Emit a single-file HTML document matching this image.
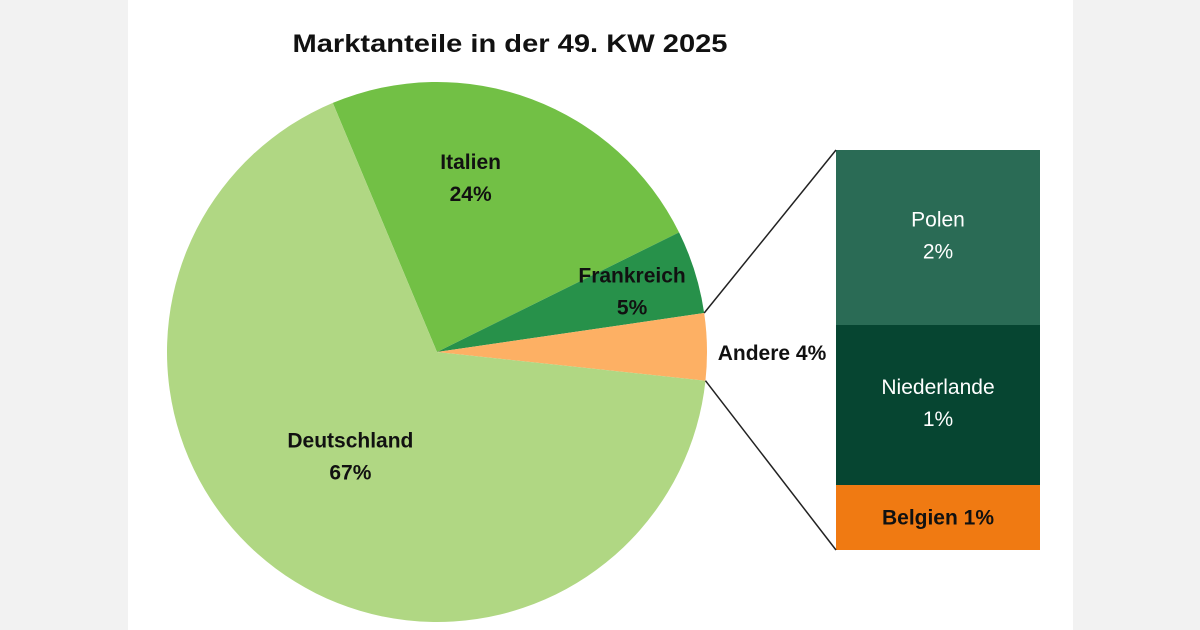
<!DOCTYPE html>
<html><head><meta charset="utf-8"><style>
html,body{margin:0;padding:0;width:1200px;height:630px;overflow:hidden;background:#f2f2f2}
svg{display:block;font-family:"Liberation Sans",sans-serif}
</style></head><body>
<svg id="c" width="1200" height="630">
<rect x="128" y="0" width="945" height="630" fill="#fff"/>
<text x="510" y="52" text-anchor="middle" font-size="25" font-weight="bold" fill="#111" textLength="435" lengthAdjust="spacingAndGlyphs">Marktanteile in der 49. KW 2025</text>
<g id="pie"></g>
<g id="bar"></g>
</svg>
<script>
const pieNames=["Italien","Frankreich","Andere","Deutschland"];
const pieValues=[24,5,4,67];
const pieColors=["#72c045","#27914a","#fdb064","#b0d783"];
const barNames=["Polen","Niederlande","Belgien"];
const barValues=[1.75,1.6,0.65];
const barLabels=["2%","1%","1%"];
const barColors=["#2a6b55","#064531","#f07a12"];
const NS="http://www.w3.org/2000/svg";
const cx=437,cy=352,r=270,start=337.3;
function pt(a,rr){const t=a*Math.PI/180;return [cx+rr*Math.sin(t),cy-rr*Math.cos(t)];}
const pie=document.getElementById('pie'),bar=document.getElementById('bar');
const tot=pieValues.reduce((a,b)=>a+b,0);
let a=start;const angs=[];
pieValues.forEach((v,i)=>{
 const sw=v/tot*360,a2=a+sw,p1=pt(a,r),p2=pt(a2,r);
 const p=document.createElementNS(NS,'path');
 p.setAttribute('d',`M${cx},${cy}L${p1[0]},${p1[1]}A${r},${r} 0 ${sw>180?1:0} 1 ${p2[0]},${p2[1]}Z`);
 p.setAttribute('fill',pieColors[i]);
 
 
 pie.appendChild(p);angs.push([a,a2]);a=a2;
});
function txt(parent,x,y,s,opt){const t=document.createElementNS(NS,'text');t.setAttribute('x',x);t.setAttribute('y',y);t.setAttribute('text-anchor',opt.anchor||'middle');t.setAttribute('font-size',21);if(opt.bold)t.setAttribute('font-weight','bold');t.setAttribute('fill',opt.fill||'#111');t.textContent=s;parent.appendChild(t);}
const rf=[0.62,0.78,0,0.45];
const offX=[-25,-6,0,-14],offY=[-18,1,0,6];
pieNames.forEach((n,i)=>{
 if(n==="Andere"){txt(pie,772,360,"Andere "+pieValues[i]+"%",{bold:1,name:'label-andere'});return;}
 const m=(angs[i][0]+angs[i][1])/2,p=pt(m,r*rf[i]);
 const x=p[0]+offX[i],yy=p[1]+offY[i];
 txt(pie,x,yy-8,n,{bold:1,name:'label-'+n.toLowerCase()});
 txt(pie,x,yy+24,pieValues[i]+"%",{bold:1,name:'value-'+n.toLowerCase()});
});
const bx=836,bw=204,by=150,bh=400;
const btot=barValues.reduce((a,b)=>a+b,0);
let y=by;
barValues.forEach((v,i)=>{
 const h=v/btot*bh;
 const rc=document.createElementNS(NS,'rect');
 rc.setAttribute('x',bx);rc.setAttribute('y',y);rc.setAttribute('width',bw);rc.setAttribute('height',h);rc.setAttribute('fill',barColors[i]);
 
 
 bar.appendChild(rc);
 const mid=y+h/2;
 if(barNames[i]==="Belgien") txt(bar,bx+bw/2,mid+7,barNames[i]+" "+barLabels[i],{bold:1,name:'bar-label-belgien'});
 else{txt(bar,bx+bw/2,mid-11,barNames[i],{fill:'#fff',name:'bar-label-'+barNames[i].toLowerCase()});
 txt(bar,bx+bw/2,mid+21,barLabels[i],{fill:'#fff',name:'bar-value-'+barNames[i].toLowerCase()});}
 y+=h;
});
const ai=pieNames.indexOf("Andere"),q1=pt(angs[ai][0],r),q2=pt(angs[ai][1],r);
[[q1,[bx,by]],[q2,[bx,by+bh]]].forEach((l,k)=>{
 const ln=document.createElementNS(NS,'line');
 ln.setAttribute('x1',l[0][0]);ln.setAttribute('y1',l[0][1]);ln.setAttribute('x2',l[1][0]);ln.setAttribute('y2',l[1][1]);
 ln.setAttribute('stroke','#222');ln.setAttribute('stroke-width','1.5');
 
 
 bar.appendChild(ln);
});
</script>
</body></html>
